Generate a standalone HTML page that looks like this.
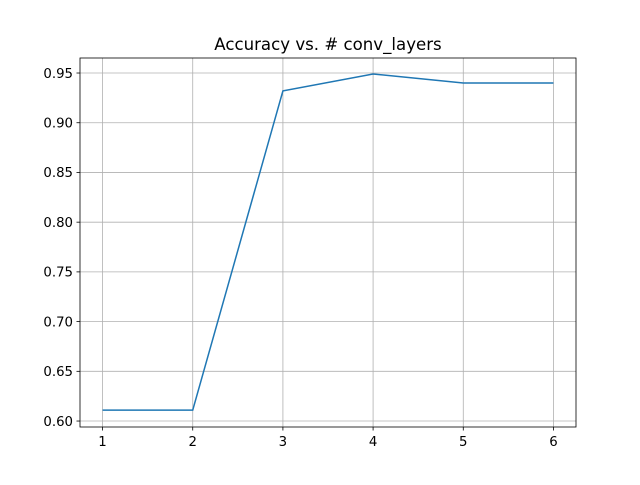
<!DOCTYPE html>
<html><head><meta charset="utf-8"><style>
body{margin:0;background:#fff;}
text{font-family:"DejaVu Sans","Liberation Sans",sans-serif;}
</style></head><body>
<svg id="chart" width="640" height="480" xmlns="http://www.w3.org/2000/svg">
<rect width="640" height="480" fill="#fff"/>
<text x="328" y="50" text-anchor="middle" font-size="16.6">Accuracy vs. # conv_layers</text>
<g id="grid"></g><g id="ticks"></g>
<polyline id="line" fill="none" stroke="#1f77b4" stroke-width="1.5"/>
<rect x="80" y="58" width="496" height="369" fill="none" stroke="#000" stroke-width="0.8"/>
</svg>
<script>
const xValues=[1,2,3,4,5,6];
const accuracy=[0.611,0.611,0.932,0.949,0.940,0.940];
const xTicks=[1,2,3,4,5,6];
const yTicks=["0.60","0.65","0.70","0.75","0.80","0.85","0.90","0.95"];
const L=80,R=576,T=58,B=427;
const xmin=0.75,xmax=6.25,ymin=0.594,ymax=0.9651;
const sx=v=>L+(v-xmin)/(xmax-xmin)*(R-L);
const sy=v=>B-(v-ymin)/(ymax-ymin)*(B-T);
const NS="http://www.w3.org/2000/svg";
const g=document.getElementById('grid'),tk=document.getElementById('ticks');
function mk(tag,attrs,parent){const e=document.createElementNS(NS,tag);for(const k in attrs)e.setAttribute(k,attrs[k]);parent.appendChild(e);return e;}
xTicks.forEach(v=>{const x=sx(v);
const gl=mk('line',{x1:x,x2:x,y1:T,y2:B,stroke:'#b0b0b0','stroke-width':0.8},g);


mk('line',{x1:x,x2:x,y1:B,y2:B+3.5,stroke:'#000','stroke-width':0.8},tk);
const t=mk('text',{x:x,y:B+19,'text-anchor':'middle','font-size':13.3},tk);t.textContent=v;

});
yTicks.forEach(s=>{const y=sy(parseFloat(s));
const gl=mk('line',{x1:L,x2:R,y1:y,y2:y,stroke:'#b0b0b0','stroke-width':0.8},g);


mk('line',{x1:L-3.5,x2:L,y1:y,y2:y,stroke:'#000','stroke-width':0.8},tk);
const t=mk('text',{x:L-7,y:y+4.8,'text-anchor':'end','font-size':13.3},tk);t.textContent=s;

});
document.getElementById('line').setAttribute('points',xValues.map((v,i)=>sx(v)+','+sy(accuracy[i])).join(' '));
</script>
</body></html>
